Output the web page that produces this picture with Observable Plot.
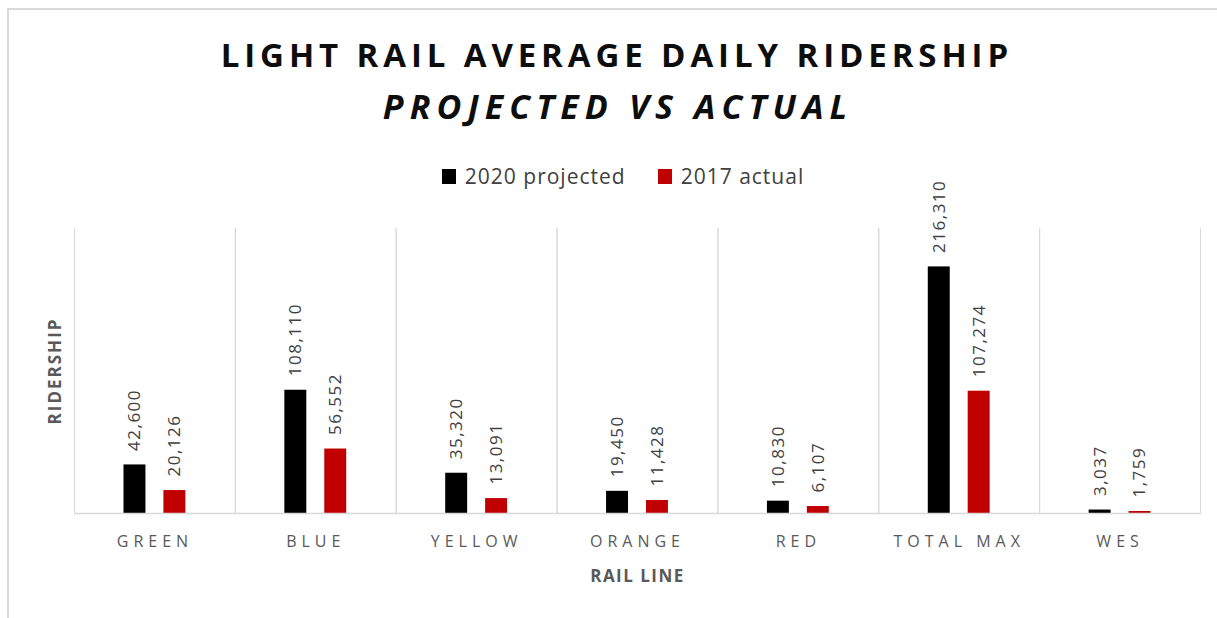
<!DOCTYPE html>
<html>
<head>
<meta charset="utf-8">
<script src="https://cdn.jsdelivr.net/npm/d3@7"></script>
<script src="https://cdn.jsdelivr.net/npm/@observablehq/plot@0.6"></script>
<style>
  html, body { margin: 0; padding: 0; background: #fff; }
  body { width: 1217px; height: 618px; overflow: hidden; position: relative; font-family: "Open Sans", sans-serif; }
  #frame { position: absolute; left: 7px; top: 8px; width: 1300px; height: 700px; border-left: 2px solid #d9d9d9; border-top: 2px solid #d9d9d9; pointer-events: none; }
  #header { position: relative; height: 200px; }
  .t { position: absolute; left: -4px; width: 1232px; text-align: center; white-space: nowrap; line-height: 1; }
  #title { top: 38px; font-size: 33px; font-weight: 700; letter-spacing: 4.9px; color: #0d0d0d; padding-left: 4.9px; }
  #subtitle { top: 89px; font-size: 34px; font-weight: 700; font-style: italic; letter-spacing: 6.1px; color: #0d0d0d; padding-left: 6.1px; }
  #legend { position: absolute; top: 166px; left: 0; width: 1246px; display: flex; justify-content: center; align-items: center; font-size: 21px; letter-spacing: 1px; color: #404040; line-height: 1; }
  .sw { display: inline-block; width: 14px; height: 15px; margin-right: 9px; }
  .item { display: flex; align-items: center; margin: 0 16px; }
  svg g[aria-label="fx-axis tick label"] text { letter-spacing: 5px; }
</style>
</head>
<body>
<div id="frame"></div>
<div id="header">
  <div id="title" class="t">LIGHT RAIL AVERAGE DAILY RIDERSHIP</div>
  <div id="subtitle" class="t">PROJECTED VS ACTUAL</div>
  <div id="legend"></div>
</div>
<div id="chart"></div>
<script>
const categories = ["GREEN", "BLUE", "YELLOW", "ORANGE", "RED", "TOTAL MAX", "WES"];
const series = ["2020 projected", "2017 actual"];
const projected2020 = [42600, 108110, 35320, 19450, 10830, 216310, 3037];
const actual2017 = [20126, 56552, 13091, 11428, 6107, 107274, 1759];
const seriesColors = ["#000000", "#c00000"];

const rows = [];
categories.forEach((c, i) => {
  rows.push({cat: c, series: series[0], value: projected2020[i]});
  rows.push({cat: c, series: series[1], value: actual2017[i]});
});

// legend
const legend = document.getElementById("legend");
series.forEach((s, i) => {
  const it = document.createElement("div");
  it.className = "item";
  const sw = document.createElement("span");
  sw.className = "sw";
  sw.style.background = seriesColors[i];
  it.appendChild(sw);
  it.appendChild(document.createTextNode(s));
  legend.appendChild(it);
});

const fmt = d3.format(",");

const chart = Plot.plot({
  width: 1217,
  height: 418,
  marginTop: 28,
  marginBottom: 105,
  marginLeft: 74,
  marginRight: 17,
  style: {fontFamily: "Open Sans, sans-serif", background: "transparent", overflow: "visible"},
  fx: {domain: categories, padding: 0, round: false, label: null},
  x: {domain: series, paddingInner: 0.45, paddingOuter: 1.24, round: false, axis: null},
  y: {domain: [0, 250000], axis: null},
  color: {domain: series, range: seriesColors},
  marks: [
    Plot.frame({anchor: "left", stroke: "#d9d9d9", strokeOpacity: 1}),
    Plot.frame({anchor: "right", stroke: "#d9d9d9", strokeOpacity: 1}),
    Plot.barY(rows, {fx: "cat", x: "series", y: "value", fill: "series"}),
    Plot.ruleY([0], {stroke: "#d9d9d9", strokeWidth: 1.5}),
    Plot.text(rows, {
      fx: "cat", x: "series", y: "value",
      text: d => fmt(d.value),
      rotate: -90, textAnchor: "start", lineAnchor: "middle",
      dy: -14, fontSize: 17, fill: "#404040"
    }),
    Plot.text(["RIDERSHIP"], {
      fx: () => "GREEN", frameAnchor: "left", text: d => d,
      rotate: -90, textAnchor: "middle", lineAnchor: "middle", dx: -19,
      fontSize: 17, fontWeight: 700, fill: "#595959"
    }),
    Plot.text(["RAIL LINE"], {
      fx: () => "ORANGE", frameAnchor: "bottom", text: d => d,
      textAnchor: "middle", lineAnchor: "middle", dy: 63,
      fontSize: 17, fontWeight: 700, fill: "#595959"
    }),
    Plot.axisFx({anchor: "bottom", tickSize: 0, tickPadding: 22, fontSize: 16, fill: "#595959", label: null})
  ]
});
document.getElementById("chart").appendChild(chart);

// letter spacing tweaks for text marks
d3.select(chart).selectAll("text").each(function() {
  const t = this.textContent;
  if (t === "RIDERSHIP") { this.style.letterSpacing = "2px"; }
  else if (t === "RAIL LINE") { this.style.letterSpacing = "1.5px"; }
  else if (/^[\d,]+$/.test(t)) { this.style.letterSpacing = "1.5px"; }
});
</script>
</body>
</html>
